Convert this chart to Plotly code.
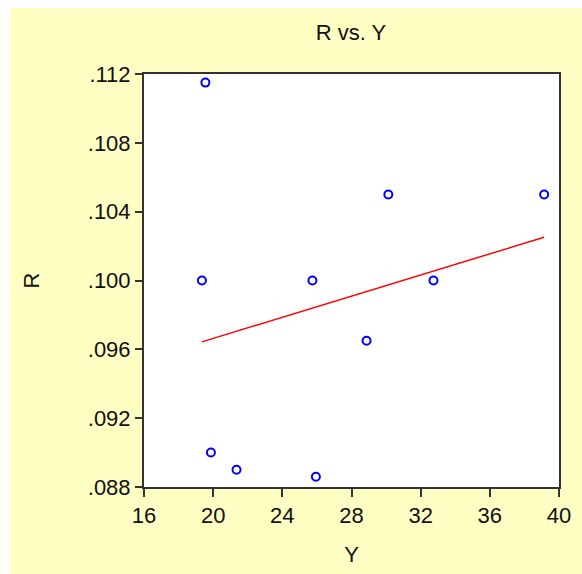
import numpy as np
import plotly.graph_objects as go

# Data
y_vals = [19.55, 19.35, 19.87, 21.35, 25.94, 25.74, 30.13, 39.14, 32.74, 28.87]   # Y (x-axis)
r_vals = [0.1115, 0.100, 0.090, 0.089, 0.0886, 0.100, 0.105, 0.105, 0.100, 0.0965]  # R (y-axis)

x_ticks = [16, 20, 24, 28, 32, 36, 40]
y_ticks = [0.088, 0.092, 0.096, 0.100, 0.104, 0.108, 0.112]
y_tick_labels = [".088", ".092", ".096", ".100", ".104", ".108", ".112"]

# OLS regression line
xa = np.array(y_vals)
ya = np.array(r_vals)
slope, intercept = np.polyfit(xa, ya, 1)
line_x = [xa.min(), xa.max()]
line_y = [intercept + slope * v for v in line_x]

FONT = "Liberation Sans, Arial, sans-serif"
W, H = 582, 574
L, R, T, B = 144, 23, 74, 87
pw, ph = W - L - R, H - T - B

fig = go.Figure()
fig.add_trace(go.Scatter(x=line_x, y=line_y, mode="lines",
                         line=dict(color="#ff0000", width=1.5), showlegend=False))
fig.add_trace(go.Scatter(x=y_vals, y=r_vals, mode="markers",
                         marker=dict(symbol="circle-open", size=8, color="#0000ff",
                                     line=dict(width=2, color="#0000ff")),
                         showlegend=False))

def px_to_paper_x(p):
    return (p - L) / pw

def px_to_paper_y(p):
    return (H - B - p) / ph

# white strips at left and top (outside the yellow panel)
fig.add_shape(type="rect", xref="paper", yref="paper",
              x0=px_to_paper_x(-5), x1=px_to_paper_x(10),
              y0=px_to_paper_y(H + 5), y1=px_to_paper_y(-5),
              fillcolor="white", line=dict(width=0), layer="below")
fig.add_shape(type="rect", xref="paper", yref="paper",
              x0=px_to_paper_x(-5), x1=px_to_paper_x(W + 5),
              y0=px_to_paper_y(8), y1=px_to_paper_y(-5),
              fillcolor="white", line=dict(width=0), layer="below")

fig.update_layout(
    width=W, height=H,
    margin=dict(l=L, r=R, t=T, b=B, pad=0),
    paper_bgcolor="#ffffc4",
    plot_bgcolor="white",
    font=dict(family=FONT, size=22, color="#101010"),
    title=dict(text="R vs. Y", x=351 / W, xanchor="center",
               y=1 - 32 / H, yanchor="middle", font=dict(size=22)),
    xaxis=dict(range=[16, 40], tickvals=x_ticks, ticktext=[str(v) for v in x_ticks],
               showgrid=False, zeroline=False, showline=True, mirror=True,
               linecolor="#333333", linewidth=2, ticks="outside", ticklen=8,
               tickwidth=2, tickcolor="#333333",
               title=dict(text="Y", standoff=19, font=dict(size=22))),
    yaxis=dict(range=[0.088, 0.112], tickvals=y_ticks, ticktext=y_tick_labels,
               showgrid=False, zeroline=False, showline=True, mirror=True,
               linecolor="#333333", linewidth=2, ticks="outside", ticklen=7,
               tickwidth=2, tickcolor="#333333",
               title=dict(text="R", standoff=42, font=dict(size=22))),
)

fig.write_html("out.html")
